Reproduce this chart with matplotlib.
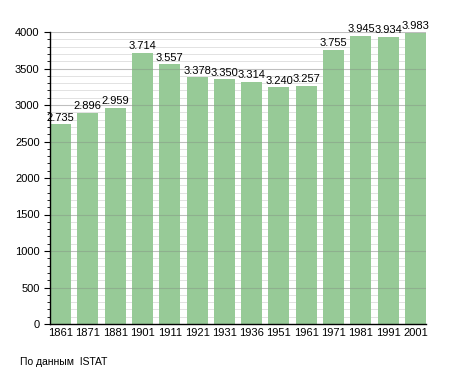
import matplotlib
matplotlib.use("Agg")
import matplotlib.pyplot as plt
from matplotlib.ticker import MultipleLocator

years = ["1861", "1871", "1881", "1901", "1911", "1921", "1931", "1936", "1951", "1961", "1971", "1981", "1991", "2001"]
values = [2735, 2896, 2959, 3714, 3557, 3378, 3350, 3314, 3240, 3257, 3755, 3945, 3934, 3983]

plt.rcParams['font.family'] = ['Liberation Sans', 'DejaVu Sans']

W, H = 455, 373
fig = plt.figure(figsize=(W/100, H/100), dpi=100)
ax = fig.add_axes([50/W, 1-324/H, 376/W, 292/H])

bw = 0.77
x = list(range(len(years)))
ax.bar(x, values, width=bw, align='edge', color='#97ca97', zorder=2)

ax.set_xlim(0, len(years)-1+bw)
ax.set_ylim(0, 4000)
ax.yaxis.set_major_locator(MultipleLocator(500))
ax.yaxis.set_minor_locator(MultipleLocator(100))
ax.set_axisbelow(True)
ax.grid(axis='y', which='both', color='#dddddd', linewidth=0.6)
for yv in ax.get_yticks():
    if 0 < yv <= 4000:
        ax.axhline(yv, color='#808080', alpha=0.35, linewidth=0.8, zorder=3)

ax.set_xticks([i + bw/2 for i in x])
ax.set_xticklabels(years)
ax.tick_params(axis='x', length=0, labelsize=8, pad=3)
ax.tick_params(axis='y', which='major', length=4, labelsize=8, direction='out')
ax.tick_params(axis='y', which='minor', length=2, direction='out')

for s in ['top', 'right']:
    ax.spines[s].set_visible(False)
for s in ['left', 'bottom']:
    ax.spines[s].set_linewidth(1.0)
    ax.spines[s].set_zorder(5)

for i, v in zip(x, values):
    lbl = f"{v:,}".replace(",", ".")
    ax.text(i + bw/2, v + 25, lbl, ha='center', va='bottom', fontsize=8, zorder=4)

fig.text(20/W, 1-362/H, "По данным  ISTAT", fontsize=7.5, va='center', ha='left')

fig.savefig("out.png", dpi=100)
